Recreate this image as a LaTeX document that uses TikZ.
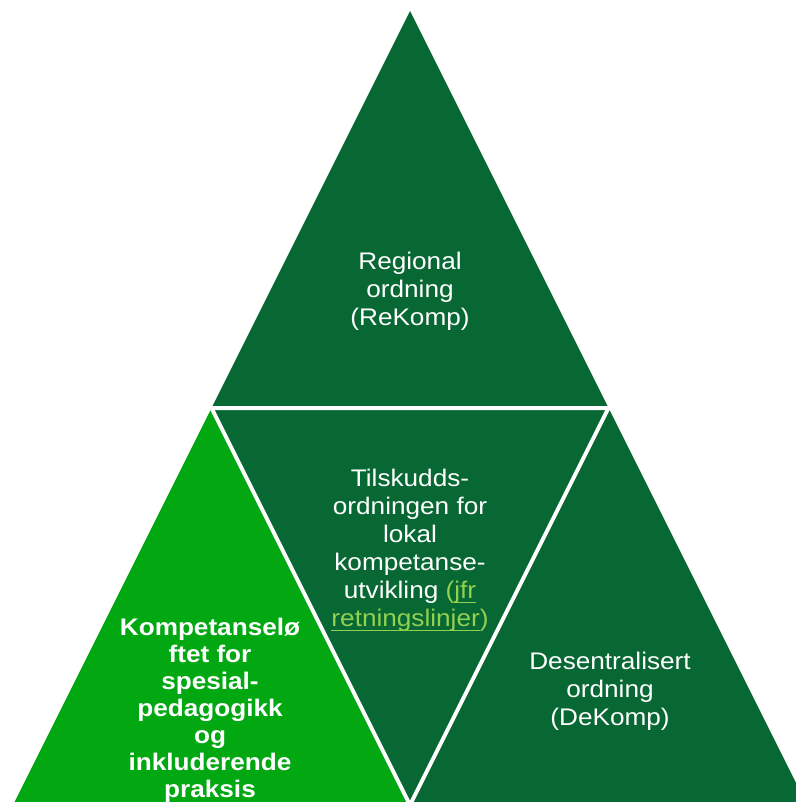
\documentclass[tikz,border=0pt]{standalone}
\usepackage{fontspec}
\setmainfont{Liberation Sans}[FakeStretch=1.09]
\definecolor{mork}{HTML}{076834}
\definecolor{lys}{HTML}{02A812}
\definecolor{lenke}{HTML}{92D050}
\newsavebox{\strekboks}
\newcommand{\strek}[1]{\sbox{\strekboks}{#1}\rlap{\rule[-4pt]{\wd\strekboks}{1.2pt}}\usebox{\strekboks}}
\tikzset{
	tekst/.style={text=white, align=center, font=\fontsize{24}{28}\selectfont},
	skille/.style={white, line width=4pt}
}
\begin{document}
\begin{tikzpicture}[x=1pt, y=-1pt]
		\useasboundingbox (0, 0) rectangle (795, 802);
		\coordinate (topp) at (410, 11);
		\coordinate (v) at (211.5, 408);
		\coordinate (h) at (608.5, 408);
		\coordinate (vb) at (13, 805);
		\coordinate (mb) at (410, 805);
		\coordinate (hb) at (807, 805);
		\fill[mork] (topp) -- (h) -- (v) -- cycle;
		\fill[mork] (v) -- (h) -- (mb) -- cycle;
		\fill[mork] (h) -- (hb) -- (mb) -- cycle;
		\fill[lys] (v) -- (mb) -- (vb) -- cycle;
		\draw[skille] (v) -- (h) -- (mb) -- cycle;
		\node[tekst] (regional) at (410, 291) {Regional\\ordning\\(ReKomp)};
		\node[tekst] (tilskudd) at (410, 550.5) {Tilskudds-\\ordningen for\\lokal\\kompetanse-\\utvikling {\color{lenke}(\strek{jfr}}\\{\color{lenke}\strek{retningslinjer})}};
		\node[tekst] (desentral) at (610, 691.5) {Desentralisert\\ordning\\(DeKomp)};
		\node[tekst, font=\fontsize{24}{27}\selectfont\bfseries] (loeft) at (210, 710) {Kompetanselø\\ftet for\\spesial-\\pedagogikk\\og\\inkluderende\\praksis};
	\end{tikzpicture}
\end{document}
